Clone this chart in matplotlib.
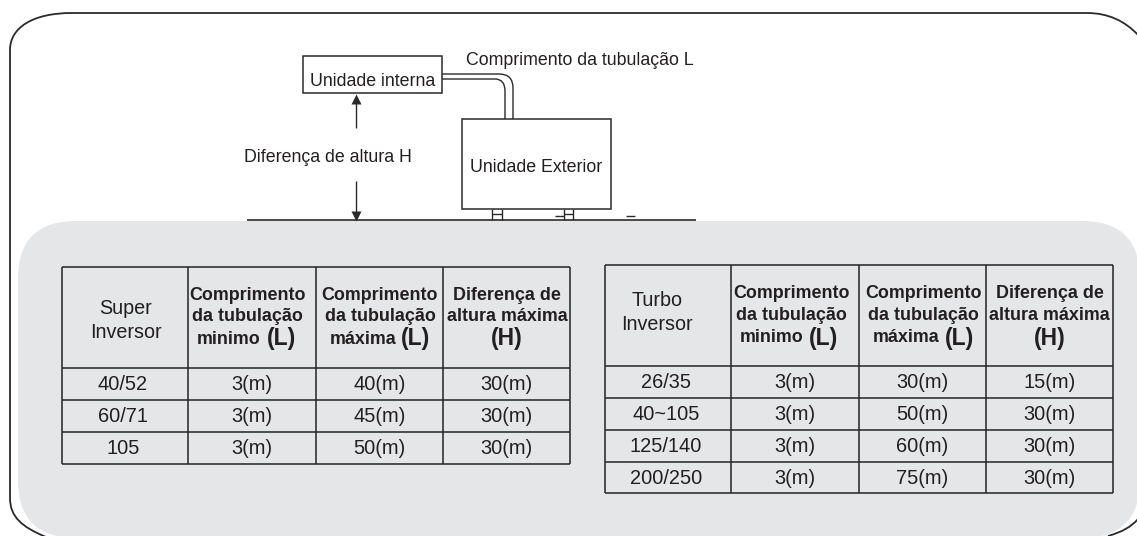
import matplotlib
matplotlib.use('Agg')
from matplotlib import pyplot as plt
from matplotlib.patches import Rectangle, PathPatch, FancyBboxPatch
from matplotlib.path import Path

W, H = 1137, 536
INK = '#2b2a2b'
GREY = '#e5e6e8'

# table contents
head_top = ['Comprimento', 'Comprimento', 'Diferença de']
head_mid = ['da tubulação', 'da tubulação', 'altura máxima']
head_low = ['minimo', 'máxima', '']
head_unit = ['(L)', '(L)', '(H)']
super_title = ['Super', 'Inversor']
super_models = ['40/52', '60/71', '105']
super_min = ['3(m)', '3(m)', '3(m)']
super_max = ['40(m)', '45(m)', '50(m)']
super_diff = ['30(m)', '30(m)', '30(m)']
turbo_title = ['Turbo', 'Inversor']
turbo_models = ['26/35', '40~105', '125/140', '200/250']
turbo_min = ['3(m)', '3(m)', '3(m)', '3(m)']
turbo_max = ['30(m)', '50(m)', '60(m)', '75(m)']
turbo_diff = ['15(m)', '30(m)', '30(m)', '30(m)']

plt.rcParams['font.family'] = ['Liberation Sans', 'DejaVu Sans']
fig = plt.figure(figsize=(W / 100, H / 100), dpi=100)
ax = fig.add_axes([0, 0, 1, 1])
ax.set_xlim(0, W)
ax.set_ylim(H, 0)
ax.axis('off')


def line(xs, ys, lw=1.3, z=3):
    ax.plot(xs, ys, color=INK, lw=lw, solid_capstyle='butt', zorder=z)


def box(x0, y0, x1, y1):
    ax.add_patch(Rectangle((x0, y0), x1 - x0, y1 - y0, fc='white', ec=INK, lw=1.1, zorder=3))


def label(x, y, s, size=12.8, weight='normal', ha='center'):
    ax.text(x, y, s, fontsize=size, fontweight=weight, ha=ha, va='center', color='#231f20', zorder=5)


# grey panel
r = 58
ax.add_patch(FancyBboxPatch((18 + r, 221 + r), 1140 - 18 - 2 * r, 538 - 221 - 2 * r,
                            boxstyle='round,pad=%d,rounding_size=%d' % (r, r),
                            fc=GREY, ec='none', zorder=2))

# outer frame, open at the bottom
frame = Path([(46, 537), (22, 527), (10, 517), (10, 498), (10, 50), (10, 28), (32, 13), (72, 13),
              (1087, 13), (1108, 13), (1125, 21), (1138, 35)],
             [1, 4, 4, 4, 2, 4, 4, 4, 2, 4, 4, 4])
ax.add_patch(PathPatch(frame, fc='none', ec=INK, lw=1.3, zorder=2.5))
frame_br = Path([(1108, 536), (1122, 532), (1131, 527), (1138, 519)], [1, 4, 4, 4])
ax.add_patch(PathPatch(frame_br, fc='none', ec=INK, lw=1.3, zorder=2.5))

# ground line and units
line([247, 696], [220, 220], lw=1.2, z=1.5)
box(303, 56, 442, 93)
box(462, 119, 611, 209)
label(372.5, 81, 'Unidade interna')
label(536.5, 167.5, 'Unidade Exterior')
label(466, 60.5, 'Comprimento da tubulação L', ha='left')
label(244, 158, 'Diferença de altura H', ha='left')

# pipe, two parallel walls
outer = Path([(442, 74), (499, 74), (513, 74), (513, 88), (513, 119)], [1, 2, 3, 3, 2])
inner = Path([(442, 79), (495, 79), (505, 79), (505, 91), (505, 119)], [1, 2, 3, 3, 2])
for pipe in (outer, inner):
    ax.add_patch(PathPatch(pipe, fc='none', ec=INK, lw=1.0, zorder=3))

# height arrow
line([356, 356], [100, 128], lw=1.0)
line([356, 356], [181, 216], lw=1.0)
ax.plot([356], [98.5], marker='^', ms=6.5, color=INK, mec='none', zorder=3)
ax.plot([356], [216], marker='v', ms=6.5, color=INK, mec='none', zorder=3)

# feet
for x0, x1 in [(492, 502), (564, 573)]:
    line([x0, x0], [209, 220], lw=1.0)
    line([x1, x1], [209, 220], lw=1.0)
    line([x0, x1], [214, 214], lw=1.0)
line([555, 564], [216, 216], lw=1.0)
line([626, 635], [216, 216], lw=1.0)


def table(xe, ye, title, title_x, title_ys, head_xs, low_xs, unit_xs, head_ys, col0_x, models, mins, maxs, diffs):
    for x in xe:
        line([x, x], [ye[0], ye[-1]], lw=1.15)
    for y in ye:
        line([xe[0], xe[-1]], [y, y], lw=1.15)
    label(title_x, title_ys[0], title[0], size=14.2)
    label(title_x, title_ys[1], title[1], size=14.2)
    for i in range(3):
        label(head_xs[i], head_ys[0], head_top[i], size=12.9, weight='bold')
        label(head_xs[i], head_ys[1], head_mid[i], size=12.9, weight='bold')
        if head_low[i]:
            label(low_xs[i], head_ys[2], head_low[i], size=12.9, weight='bold', ha='left')
        label(unit_xs[i], head_ys[2], head_unit[i], size=16.5, weight='bold')
    for r_i in range(len(models)):
        cy = (ye[r_i + 1] + ye[r_i + 2]) / 2 + 1
        label(col0_x, cy, models[r_i], size=14.4)
        for c, col in enumerate((mins, maxs, diffs)):
            label((xe[c + 1] + xe[c + 2]) / 2, cy, col[r_i], size=14.4)


table([61.5, 188, 316, 443, 570], [267, 368, 400, 432, 464], super_title, 126, [308.5, 332],
      [247.5, 380, 507], [197, 330, 0], [281, 416, 507], [296, 316.5, 339], 123,
      super_models, super_min, super_max, super_diff)
table([604.5, 731, 858.5, 985.5, 1113], [265, 366, 398, 430, 462, 493], turbo_title, 657, [301, 325],
      [791, 923, 1049.5], [740, 873, 0], [824, 959, 1049.5], [294, 315, 338], 666,
      turbo_models, turbo_min, turbo_max, turbo_diff)

fig.savefig('out.png', dpi=100)
